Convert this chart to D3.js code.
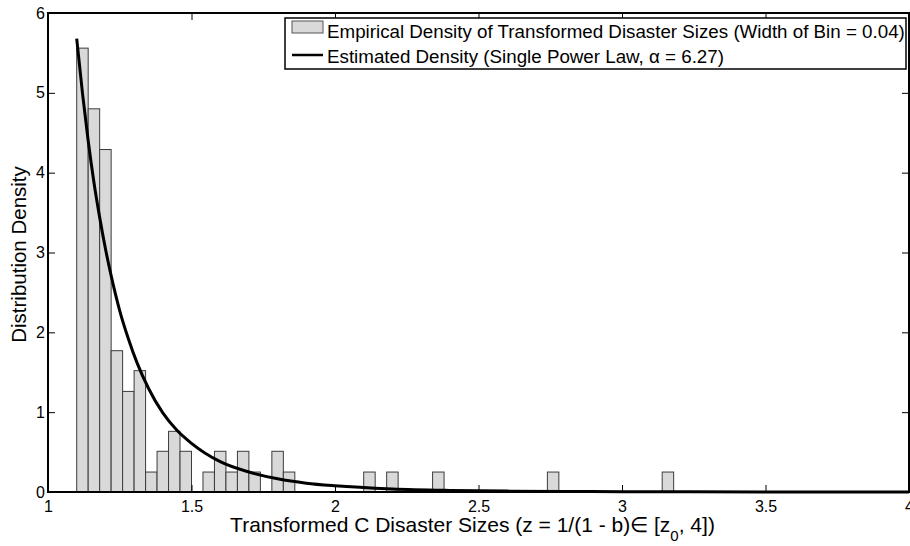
<!DOCTYPE html>
<html>
<head>
<meta charset="utf-8">
<script src="https://cdn.jsdelivr.net/npm/d3@7"></script>
<style>
    body { margin: 0; background: #fff; }
    #chart { width: 910px; height: 546px; }
    text { font-family: "Liberation Sans", Arial, sans-serif; fill: #000; }
</style>
</head>
<body>
<div id="chart"></div>
<script>
// histogram bins (left edge) and their empirical density, bin width 0.04
const binLefts = [1.10, 1.14, 1.18, 1.22, 1.26, 1.30, 1.34, 1.38, 1.42, 1.46, 1.54, 1.58,
    1.62, 1.66, 1.70, 1.78, 1.82, 2.10, 2.18, 2.34, 2.74, 3.14];
const binDensities = [5.56, 4.80, 4.29, 1.77, 1.26, 1.52, 0.25, 0.51, 0.76, 0.51, 0.25, 0.51,
    0.25, 0.51, 0.25, 0.51, 0.25, 0.25, 0.25, 0.25, 0.25, 0.25];
const binWidth = 0.04;

// estimated density curve
const curveZ = [1.10, 1.12, 1.14, 1.16, 1.18, 1.20, 1.22, 1.25, 1.28, 1.31, 1.35, 1.40, 1.45,
    1.50, 1.60, 1.70, 1.80, 1.90, 2.00, 2.20, 2.40, 2.60, 2.80, 3.00, 3.50, 4.00];
const curveDensity = [5.68, 5.00, 4.40, 3.88, 3.44, 3.05, 2.71, 2.27, 1.92, 1.62, 1.30, 0.99, 0.77,
    0.61, 0.38, 0.25, 0.165, 0.11, 0.077, 0.038, 0.02, 0.011, 0.007, 0.004, 0.0015, 0.0006];

const xTicks = [1, 1.5, 2, 2.5, 3, 3.5, 4];
const yTicks = [0, 1, 2, 3, 4, 5, 6];
const legendLabels = [
    "Empirical Density of Transformed Disaster Sizes (Width of Bin = 0.04)",
    "Estimated Density (Single Power Law, \u03b1 = 6.27)"
];

const margin = { top: 13, right: 1, bottom: 54, left: 48 };
const totalWidth = 910, totalHeight = 546;
const width = totalWidth - margin.left - margin.right;
const height = totalHeight - margin.top - margin.bottom;
const tickLen = 7;

function CreateAxes(svg, x, y) {
    // bottom and left with labels, top and right only ticks (box on)
    svg.append("g")
        .attr("transform", `translate(0, ${height})`)
        .call(d3.axisBottom(x).tickValues(xTicks).tickFormat(d3.format("")).tickSizeInner(-tickLen).tickSizeOuter(0).tickPadding(8.5))
        .call(g => g.select(".domain").remove())
        .call(g => g.selectAll("text").style("font-size", "16px"));

    svg.append("g")
        .call(d3.axisLeft(y).tickValues(yTicks).tickFormat(d3.format("d")).tickSizeInner(-tickLen).tickSizeOuter(0).tickPadding(3))
        .call(g => g.select(".domain").remove())
        .call(g => g.selectAll("text").style("font-size", "16px"));

    svg.append("g")
        .call(d3.axisTop(x).tickValues(xTicks).tickFormat("").tickSizeInner(-tickLen).tickSizeOuter(0))
        .call(g => g.select(".domain").remove());

    svg.append("g")
        .attr("transform", `translate(${width}, 0)`)
        .call(d3.axisRight(y).tickValues(yTicks).tickFormat("").tickSizeInner(-tickLen).tickSizeOuter(0))
        .call(g => g.select(".domain").remove());

    svg.selectAll(".tick line").attr("stroke", "#000").attr("stroke-width", 1);
    svg.selectAll(".tick text").attr("fill", "#000");

    svg.append("rect")
        .attr("width", width)
        .attr("height", height)
        .attr("fill", "none")
        .attr("stroke", "#000")
        .attr("stroke-width", 2);
};

function DrawLegend(root) {
    const lx = 285, ly = 18;
    const lg = root.append("g").attr("transform", `translate(${lx}, ${ly})`);

    lg.append("rect")
        .attr("width", 621)
        .attr("height", 51)
        .attr("fill", "#fff")
        .attr("stroke", "#000")
        .attr("stroke-width", 1.5);

    lg.append("rect")
        .attr("x", 7).attr("y", 3)
        .attr("width", 31).attr("height", 12)
        .attr("fill", "#d9d9d9")
        .attr("stroke", "#555")
        .attr("stroke-width", 1);

    lg.append("line")
        .attr("x1", 7).attr("x2", 38)
        .attr("y1", 37).attr("y2", 37)
        .attr("stroke", "#000")
        .attr("stroke-width", 2.5);

    lg.selectAll("text.legend")
        .data(legendLabels)
        .join("text")
        .attr("class", "legend")
        .attr("x", 42)
        .attr("y", (d, i) => 20.3 + i * 25)
        .style("font-size", "18.75px")
        .text(d => d);
};

function DrawGraph(divId) {
    const root = d3.select(`#${divId}`)
        .append("svg")
        .attr("width", totalWidth)
        .attr("height", totalHeight);

    root.append("rect").attr("width", totalWidth).attr("height", totalHeight).attr("fill", "#fff");

    const svg = root.append("g")
        .attr("transform", `translate(${margin.left}, ${margin.top})`);

    const x = d3.scaleLinear().domain([1, 4]).range([0, width]);
    const y = d3.scaleLinear().domain([0, 6]).range([height, 0]);

    svg.selectAll("rect.bar")
        .data(binLefts.map((left, i) => ({ left, value: binDensities[i] })))
        .join("rect")
        .attr("class", "bar")
        .attr("x", d => x(d.left))
        .attr("width", d => x(d.left + binWidth) - x(d.left))
        .attr("y", d => y(d.value))
        .attr("height", d => y(0) - y(d.value))
        .attr("fill", "#d9d9d9")
        .attr("stroke", "#3c3c3c")
        .attr("stroke-width", 1);

    svg.append("path")
        .datum(curveZ.map((z, i) => ({ z, value: curveDensity[i] })))
        .attr("fill", "none")
        .attr("stroke", "#000")
        .attr("stroke-width", 3)
        .attr("d", d3.line()
            .curve(d3.curveMonotoneX)
            .x(d => x(d.z))
            .y(d => y(d.value))
        );

    CreateAxes(svg, x, y);

    // axis titles
    const xLabel = svg.append("text")
        .attr("x", width / 2 - 6)
        .attr("y", height + 40)
        .attr("text-anchor", "middle")
        .style("font-size", "21px");
    xLabel.append("tspan").text("Transformed C Disaster Sizes (z = 1/(1 - b)\u2208  [z");
    xLabel.append("tspan").attr("baseline-shift", "sub").style("font-size", "15px").text("0");
    xLabel.append("tspan").text(", 4])");

    svg.append("text")
        .attr("transform", `translate(-22, ${height / 2 + 2}) rotate(-90)`)
        .attr("text-anchor", "middle")
        .style("font-size", "20.5px")
        .text("Distribution Density");

    DrawLegend(root);
};

DrawGraph("chart");
</script>
</body>
</html>
